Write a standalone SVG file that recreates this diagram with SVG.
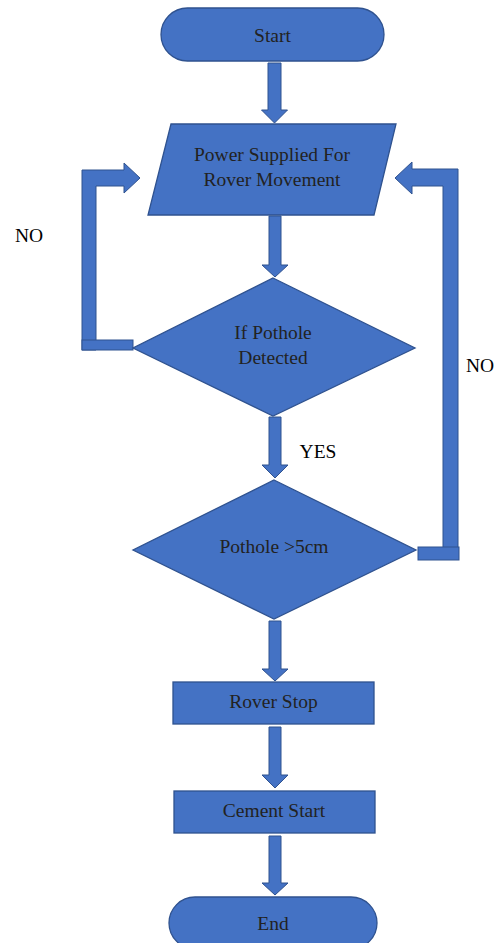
<svg xmlns="http://www.w3.org/2000/svg" width="497" height="943" viewBox="0 0 497 943">
<style>
.shape{fill:#4472C4;stroke:#2F528F;stroke-width:1.3}
.conn{fill:#4472C4;stroke:#2F528F;stroke-width:1}
.t{font-size:19.5px;fill:#222;text-anchor:middle;dominant-baseline:central}
.lbl{font-size:19.5px;fill:#000;text-anchor:middle;dominant-baseline:central}
</style>
<rect width="497" height="943" fill="#fff"/>
<g id="connectors" font-family="Liberation Serif, Times New Roman, Tinos, DejaVu Serif, serif">
<polygon class="conn" points="268,63 281,63 281,110 287.5,110 274.5,123 261.5,110 268,110"/>
<polygon class="conn" points="269,216 281,216 281,265 288,265 275,277 262,265 269,265"/>
<polygon class="conn" points="269,417 281,417 281,465 288,465 275,478 262,465 269,465"/>
<polygon class="conn" points="269,621 281,621 281,669 288,669 275,681 262,669 269,669"/>
<polygon class="conn" points="269,727 281,727 281,775 288,775 275,788 262,775 269,775"/>
<polygon class="conn" points="269,836 281,836 281,883 288,883 275,895 262,883 269,883"/>
<polygon class="conn" points="82,350 82,170 124,170 124,163 140,178 124,193 124,186 96,186 96,350"/>
<rect class="conn" x="82" y="340" width="51" height="10"/>
<polygon class="conn" points="458,548 458,169 412,169 412,162 395,178 412,194 412,186 443,186 443,548"/>
<rect class="conn" x="418" y="547" width="41" height="13"/>
<text class="lbl" x="29" y="235">NO</text>
<text class="lbl" x="480" y="365">NO</text>
<text class="lbl" x="318" y="451">YES</text>
</g>
<g font-family="Liberation Serif, Times New Roman, Tinos, DejaVu Serif, serif">
<g id="start">
<rect class="shape" x="161" y="8" width="223" height="53" rx="26.5"/>
<text class="t" x="272.5" y="35">Start</text>
</g>
<g id="power">
<polygon class="shape" points="171,124 396,124 374,215 148,215"/>
<text class="t" x="272" y="154">Power Supplied For</text>
<text class="t" x="272" y="179">Rover Movement</text>
</g>
<g id="detect">
<polygon class="shape" points="273,278 415,348 273,416 133,348"/>
<text class="t" x="273" y="332">If Pothole</text>
<text class="t" x="273" y="357">Detected</text>
</g>
<g id="size">
<polygon class="shape" points="274,480 416,550 274,619 133,550"/>
<text class="t" x="274" y="546">Pothole &gt;5cm</text>
</g>
<g id="stop">
<rect class="shape" x="173" y="682" width="201" height="42"/>
<text class="t" x="273.5" y="701">Rover Stop</text>
</g>
<g id="cement">
<rect class="shape" x="174" y="791" width="201" height="42"/>
<text class="t" x="274" y="810">Cement Start</text>
</g>
<g id="end">
<rect class="shape" x="169" y="897" width="208" height="52" rx="26"/>
<text class="t" x="273" y="923">End</text>
</g>
</g>
</svg>
